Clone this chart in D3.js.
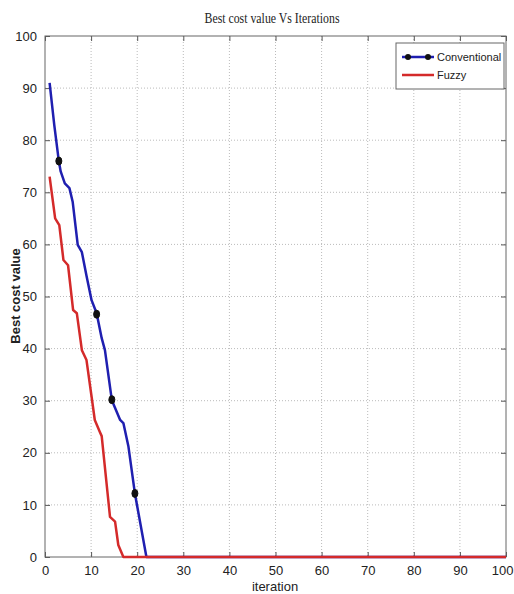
<!DOCTYPE html>
<html>
<head>
<meta charset="utf-8">
<script src="https://cdn.jsdelivr.net/npm/d3@7"></script>
<style>
  body { margin: 0; background: #fff; }
  svg { display: block; }
</style>
</head>
<body>
<div id="chart"></div>
<script>
// values
const convX = [1, 2, 3, 3.4, 4.3, 5.3, 6, 7.1, 8, 9, 10.1, 11.2, 12.3, 13, 14.5, 16.3, 17, 18.1, 19.5, 22, 100];
const convY = [91, 83, 76, 74, 71.7, 70.8, 68.2, 59.9, 58.5, 54, 49.3, 46.8, 42, 39.7, 30.1, 26.3, 25.7, 21.2, 12.2, 0, 0];
const markX = [3, 11.2, 14.5, 19.5];
const markY = [76, 46.6, 30.2, 12.2];
const fuzzyX = [1, 2.2, 3.1, 4, 5, 6.1, 6.9, 8, 9, 10.1, 10.8, 11.9, 12.3, 14.1, 15.2, 15.9, 17, 100];
const fuzzyY = [73, 65, 63.7, 57, 56, 47.4, 46.8, 39.7, 37.8, 30.8, 26.3, 24, 23.2, 7.7, 6.8, 2.3, 0, 0];
const xTicks = [0, 10, 20, 30, 40, 50, 60, 70, 80, 90, 100];
const yTicks = [0, 10, 20, 30, 40, 50, 60, 70, 80, 90, 100];
const legendNames = ['Conventional', 'Fuzzy'];

const W = 514, H = 594;
const margin = { top: 36, right: 8, bottom: 37, left: 45 };
const width = W - margin.left - margin.right;
const height = H - margin.top - margin.bottom;

const svg = d3.select('#chart').append('svg')
  .attr('width', W)
  .attr('height', H);

const g = svg.append('g')
  .attr('transform', `translate(${margin.left},${margin.top})`);

const x = d3.scaleLinear().domain([0, 100]).range([0, width]);
const y = d3.scaleLinear().domain([0, 100]).range([height, 0]);

// Grid lines
const grid = g.append('g');
xTicks.slice(1, -1).forEach(t => {
  grid.append('line')
    .attr('x1', x(t)).attr('x2', x(t))
    .attr('y1', 0).attr('y2', height)
    .attr('stroke', '#bbb')
    .attr('stroke-width', 1)
    .attr('stroke-dasharray', '1,2');
});
yTicks.slice(1, -1).forEach(t => {
  grid.append('line')
    .attr('x1', 0).attr('x2', width)
    .attr('y1', y(t)).attr('y2', y(t))
    .attr('stroke', '#bbb')
    .attr('stroke-width', 1)
    .attr('stroke-dasharray', '1,2');
});

// Axes (ticks inward, MATLAB style)
const fontTick = '"Liberation Sans Narrow", "Liberation Sans", Arial, sans-serif';
const xAxis = g.append('g')
  .attr('transform', `translate(0,${height})`)
  .call(d3.axisBottom(x).tickValues(xTicks).tickSize(-5).tickPadding(9));
const yAxis = g.append('g')
  .call(d3.axisLeft(y).tickValues(yTicks).tickSize(-5).tickPadding(8));
[xAxis, yAxis].forEach(a => {
  a.select('.domain').remove();
  a.selectAll('line').attr('stroke', '#555');
  a.selectAll('text')
    .style('font-family', fontTick)
    .style('font-size', '13px')
    .attr('fill', '#222');
});
yAxis.selectAll('text').attr('dy', '0.32em');
// last x label sits at the window edge; keep it inside
xAxis.selectAll('.tick text').filter(d => d === 100)
  .attr('text-anchor', 'end').attr('x', 7);

// top/right ticks
g.append('g').attr('transform', 'translate(0,0)')
  .call(d3.axisTop(x).tickValues(xTicks).tickSize(-5).tickFormat(''))
  .call(a => { a.select('.domain').remove(); a.selectAll('line').attr('stroke', '#555'); });
g.append('g').attr('transform', `translate(${width},0)`)
  .call(d3.axisRight(y).tickValues(yTicks).tickSize(-5).tickFormat(''))
  .call(a => { a.select('.domain').remove(); a.selectAll('line').attr('stroke', '#555'); });

// box
g.append('rect')
  .attr('width', width).attr('height', height)
  .attr('fill', 'none')
  .attr('stroke', '#666')
  .attr('stroke-width', 1);

// Lines
const line = d3.line().x(d => x(d[0])).y(d => y(d[1]));
const convData = convX.map((v, i) => [v, convY[i]]);
const fuzzyData = fuzzyX.map((v, i) => [v, fuzzyY[i]]);

g.append('path')
  .datum(convData)
  .attr('d', line)
  .attr('fill', 'none')
  .attr('stroke', '#1f1fb0')
  .attr('stroke-width', 2.5)
  .attr('stroke-linejoin', 'round');

g.append('path')
  .datum(fuzzyData)
  .attr('d', line)
  .attr('fill', 'none')
  .attr('stroke', '#d42a2a')
  .attr('stroke-width', 2.5)
  .attr('stroke-linejoin', 'round');

// markers
g.selectAll('.marker')
  .data(markX.map((v, i) => [v, markY[i]]))
  .join('ellipse')
  .attr('class', 'marker')
  .attr('cx', d => x(d[0]))
  .attr('cy', d => y(d[1]))
  .attr('rx', 3).attr('ry', 4)
  .attr('fill', '#111')
  .attr('stroke', '#111')
  .attr('stroke-width', 1);

// Title and labels
svg.append('text')
  .attr('x', 272).attr('y', 23)
  .attr('text-anchor', 'middle')
  .style('font-family', '"Liberation Serif", "Times New Roman", serif')
  .style('font-size', '14px')
  .attr('fill', '#222')
  .attr('textLength', 135)
  .attr('lengthAdjust', 'spacingAndGlyphs')
  .text('Best cost value Vs Iterations');

svg.append('text')
  .attr('x', 275).attr('y', 591)
  .attr('text-anchor', 'middle')
  .style('font-family', fontTick)
  .style('font-size', '13px')
  .attr('fill', '#222')
  .text('iteration');

svg.append('text')
  .attr('transform', 'translate(20,296) rotate(-90)')
  .attr('text-anchor', 'middle')
  .style('font-family', '"Liberation Sans", Arial, sans-serif')
  .style('font-size', '13px')
  .style('font-weight', 'bold')
  .attr('fill', '#222')
  .text('Best cost value');

// Legend
const legend = svg.append('g').attr('transform', 'translate(396,43)');
legend.append('rect')
  .attr('width', 108).attr('height', 46)
  .attr('fill', '#fff')
  .attr('stroke', '#666')
  .attr('stroke-width', 1);
const legendColors = ['#1f1fb0', '#d42a2a'];
legendNames.forEach((name, i) => {
  const ly = 14 + i * 18;
  legend.append('line')
    .attr('x1', 6).attr('x2', 38)
    .attr('y1', ly).attr('y2', ly)
    .attr('stroke', legendColors[i])
    .attr('stroke-width', 2.5);
  if (i === 0) {
    [12, 32].forEach(cx => legend.append('circle')
      .attr('cx', cx).attr('cy', ly).attr('r', 3).attr('fill', '#111'));
  }
  legend.append('text')
    .attr('x', 41).attr('y', ly + 4)
    .style('font-family', fontTick)
    .style('font-size', '11px')
    .attr('fill', '#222')
    .text(name);
});
</script>
</body>
</html>
